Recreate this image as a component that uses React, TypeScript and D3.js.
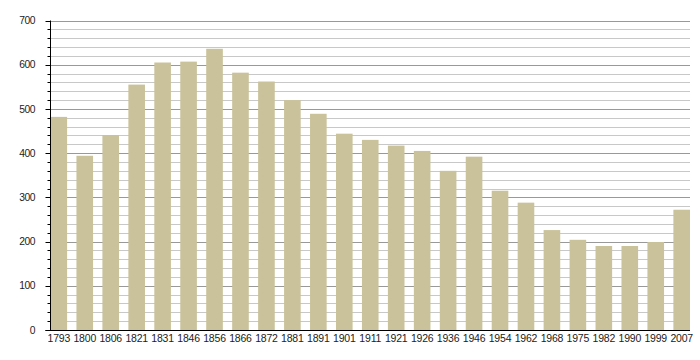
import React from "react";
import * as d3 from "d3";

const years = ["1793","1800","1806","1821","1831","1846","1856","1866","1872","1881","1891","1901","1911","1921","1926","1936","1946","1954","1962","1968","1975","1982","1990","1999","2007"];
const population = [482,394,441,555,605,607,636,582,562,520,489,444,430,417,405,360,392,315,288,226,204,190,190,199,272];
const majorTicks = [0,100,200,300,400,500,600,700];
const minorTicks = d3.range(0, 701, 20);

const W = 700, H = 360;
const left = 50.5, right = 690, top = 20.5, bottom = 330;

export default function App() {
  const x = d3.scaleBand<string>().domain(years).range([left, right]).paddingInner(0.36).paddingOuter(0);
  const y = d3.scaleLinear().domain([0, 700]).range([bottom, top]);
  const font = "'Liberation Sans', Arial, sans-serif";
  return (
    <svg width={W} height={H} style={{ position: "absolute", left: 0, top: 0, background: "#fff" }}>
      {minorTicks.filter(t => t % 100 !== 0).map(t => (
        <g key={"m" + t}>
          <line x1={left} x2={right} y1={Math.round(y(t)) + 0.5} y2={Math.round(y(t)) + 0.5} stroke="#c8c8c8" strokeWidth={1} />
          <line x1={left - 3} x2={left} y1={Math.round(y(t)) + 0.5} y2={Math.round(y(t)) + 0.5} stroke="#000" strokeWidth={1} />
        </g>
      ))}
      {majorTicks.map(t => (
        <g key={"M" + t}>
          {t > 0 && <line x1={left} x2={right} y1={Math.round(y(t)) + 0.5} y2={Math.round(y(t)) + 0.5} stroke="#999" strokeWidth={1} />}
          <line x1={left - 5} x2={left} y1={Math.round(y(t)) + 0.5} y2={Math.round(y(t)) + 0.5} stroke="#000" strokeWidth={1} />
          <text x={35} y={y(t) + 3.7} textAnchor="end" fontFamily={font} fontSize={10.3} letterSpacing={-0.5} fill="#222">{t}</text>
        </g>
      ))}
      {years.map((yr, i) => (
        <rect key={yr} x={x(yr)} y={y(population[i])} width={x.bandwidth()} height={bottom - y(population[i])} fill="#cac29a" />
      ))}
      <line x1={left} x2={left} y1={top} y2={bottom + 0.5} stroke="#000" strokeWidth={1} />
      <line x1={left - 5} x2={right} y1={bottom + 0.5} y2={bottom + 0.5} stroke="#000" strokeWidth={1} />
      {years.map(yr => (
        <text key={"l" + yr} x={(x(yr) as number) + x.bandwidth() / 2} y={341.5} textAnchor="middle" fontFamily={font} fontSize={10.5} letterSpacing={-0.2} fill="#222">{yr}</text>
      ))}
    </svg>
  );
}
